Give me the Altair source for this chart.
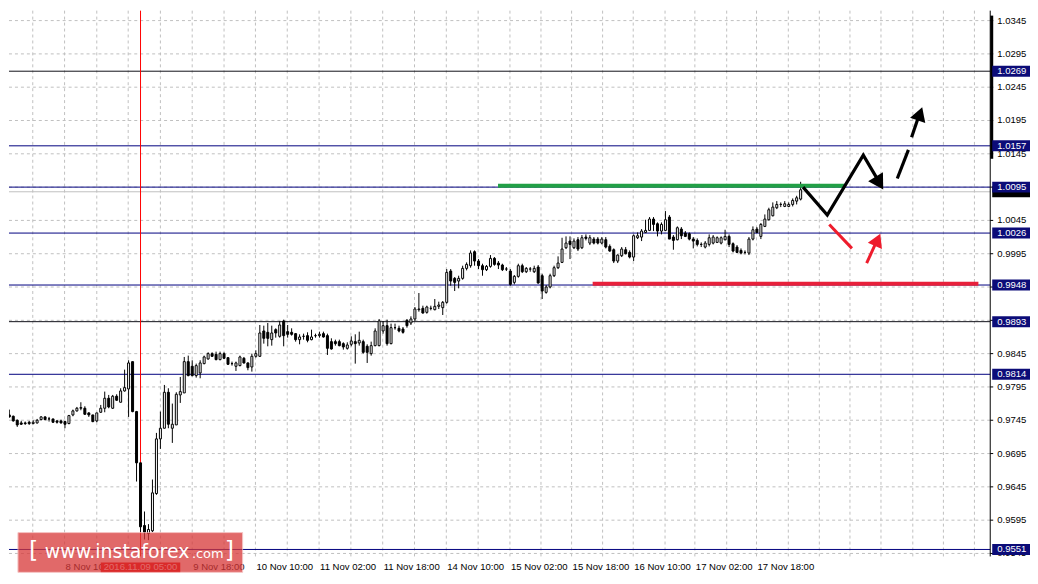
import altair as alt
import pandas as pd

# ---------------- candle data (hourly bars, bar index 0 = leftmost visible) ----------------
opens = [0.9772,0.9759,0.9753,0.9751,0.9745,0.9741,0.9741,0.9742,0.9740,0.9741,
         0.9746,0.9750,0.9747,0.9747,0.9744,0.9744,0.9743,0.9740,0.9753,0.9759,
         0.9763,0.9763,0.9756,0.9753,0.9744,0.9757,0.9763,0.9778,0.9763,0.9781,
         0.9772,0.9789,0.9792,0.9833,0.9758,0.9681,0.9587,0.9575,0.9579,0.9635,
         0.9717,0.9733,0.9787,0.9733,0.9738,0.9783,0.9786,0.9833,0.9826,0.9812,
         0.9816,0.9830,0.9837,0.9845,0.9844,0.9836,0.9845,0.9839,0.9830,0.9826,
         0.9827,0.9838,0.9831,0.9825,0.9841,0.9841,0.9879,0.9877,0.9866,0.9881,
         0.9871,0.9894,0.9878,0.9877,0.9875,0.9866,0.9871,0.9872,0.9866,0.9872,
         0.9872,0.9875,0.9872,0.9863,0.9863,0.9863,0.9860,0.9853,0.9859,0.9863,
         0.9861,0.9863,0.9856,0.9845,0.9857,0.9857,0.9879,0.9887,0.9860,0.9884,
         0.9883,0.9882,0.9895,0.9891,0.9897,0.9911,0.9913,0.9907,0.9913,0.9911,
         0.9916,0.9914,0.9922,0.9969,0.9958,0.9954,0.9958,0.9973,0.9977,0.9998,
         0.9984,0.9977,0.9971,0.9976,0.9988,0.9981,0.9978,0.9972,0.9969,0.9952,
         0.9961,0.9977,0.9968,0.9972,0.9968,0.9975,0.9962,0.9937,0.9945,0.9962,
         0.9974,0.9982,1.0004,1.0014,1.0004,1.0016,1.0004,1.0020,1.0011,1.0017,
         1.0017,1.0011,1.0016,1.0006,1.0001,0.9984,0.9992,1.0001,0.9997,0.9990,
         1.0019,1.0020,1.0027,1.0030,1.0047,1.0040,1.0029,1.0030,1.0050,1.0020,
         1.0016,1.0032,1.0026,1.0025,1.0017,1.0015,1.0009,1.0005,1.0009,1.0011,
         1.0012,1.0011,1.0016,1.0021,1.0010,1.0005,1.0000,0.9997,0.9996,1.0017,
         1.0032,1.0021,1.0036,1.0046,1.0052,1.0064,1.0069,1.0066,1.0066,1.0069,
         1.0074,1.0077]
highs = [0.9775,0.9760,0.9761,0.9752,0.9746,0.9744,0.9743,0.9744,0.9745,0.9747,
         0.9751,0.9751,0.9750,0.9747,0.9745,0.9746,0.9744,0.9753,0.9761,0.9765,
         0.9772,0.9766,0.9757,0.9753,0.9756,0.9768,0.9788,0.9783,0.9783,0.9784,
         0.9793,0.9821,0.9835,0.9833,0.9759,0.9681,0.9608,0.9589,0.9656,0.9726,
         0.9758,0.9798,0.9793,0.9770,0.9787,0.9810,0.9840,0.9842,0.9835,0.9830,
         0.9835,0.9842,0.9847,0.9847,0.9848,0.9848,0.9847,0.9839,0.9833,0.9833,
         0.9842,0.9840,0.9832,0.9845,0.9850,0.9888,0.9887,0.9891,0.9887,0.9883,
         0.9894,0.9896,0.9888,0.9883,0.9876,0.9874,0.9875,0.9877,0.9881,0.9875,
         0.9878,0.9878,0.9875,0.9868,0.9866,0.9866,0.9862,0.9862,0.9871,0.9874,
         0.9878,0.9866,0.9859,0.9863,0.9883,0.9897,0.9894,0.9896,0.9890,0.9890,
         0.9887,0.9885,0.9897,0.9901,0.9915,0.9936,0.9917,0.9917,0.9917,0.9927,
         0.9923,0.9924,0.9972,0.9972,0.9960,0.9962,0.9977,0.9982,1.0000,1.0000,
         0.9987,0.9980,0.9978,0.9993,0.9990,0.9984,0.9980,0.9975,0.9972,0.9963,
         0.9980,0.9980,0.9975,0.9975,0.9977,0.9978,0.9965,0.9948,0.9965,0.9977,
         0.9991,1.0019,1.0021,1.0021,1.0018,1.0020,1.0023,1.0024,1.0023,1.0020,
         1.0020,1.0020,1.0020,1.0009,1.0003,0.9994,1.0005,1.0005,1.0000,1.0024,
         1.0027,1.0032,1.0046,1.0050,1.0050,1.0042,1.0042,1.0059,1.0053,1.0023,
         1.0036,1.0035,1.0029,1.0027,1.0020,1.0018,1.0012,1.0014,1.0024,1.0023,
         1.0021,1.0021,1.0031,1.0024,1.0012,1.0008,1.0003,1.0000,1.0020,1.0036,
         1.0035,1.0041,1.0054,1.0064,1.0072,1.0074,1.0072,1.0074,1.0072,1.0078,
         1.0082,1.0103]
lows = [0.9755,0.9749,0.9749,0.9743,0.9735,0.9738,0.9738,0.9738,0.9739,0.9740,
        0.9745,0.9745,0.9743,0.9741,0.9740,0.9740,0.9733,0.9739,0.9751,0.9758,
        0.9760,0.9753,0.9750,0.9742,0.9742,0.9756,0.9757,0.9763,0.9762,0.9774,
        0.9772,0.9788,0.9750,0.9757,0.9653,0.9577,0.9566,0.9565,0.9577,0.9633,
        0.9702,0.9733,0.9733,0.9711,0.9738,0.9771,0.9786,0.9811,0.9811,0.9809,
        0.9808,0.9829,0.9836,0.9840,0.9835,0.9835,0.9837,0.9828,0.9827,0.9819,
        0.9826,0.9830,0.9820,0.9818,0.9839,0.9840,0.9860,0.9856,0.9857,0.9869,
        0.9869,0.9856,0.9869,0.9872,0.9863,0.9859,0.9866,0.9862,0.9865,0.9869,
        0.9869,0.9869,0.9843,0.9851,0.9857,0.9856,0.9851,0.9851,0.9856,0.9830,
        0.9857,0.9845,0.9831,0.9842,0.9856,0.9856,0.9875,0.9857,0.9859,0.9881,
        0.9877,0.9875,0.9884,0.9888,0.9894,0.9908,0.9905,0.9905,0.9910,0.9910,
        0.9912,0.9903,0.9920,0.9947,0.9939,0.9943,0.9956,0.9970,0.9974,0.9977,
        0.9972,0.9962,0.9969,0.9974,0.9977,0.9972,0.9969,0.9969,0.9947,0.9949,
        0.9959,0.9966,0.9966,0.9968,0.9966,0.9950,0.9927,0.9935,0.9943,0.9960,
        0.9972,0.9981,1.0002,0.9987,1.0002,0.9999,1.0002,1.0015,1.0008,1.0009,
        1.0009,1.0009,1.0003,0.9998,0.9981,0.9981,0.9990,0.9994,0.9988,0.9984,
        1.0017,1.0014,1.0026,1.0029,1.0029,1.0021,1.0024,1.0029,1.0017,1.0001,
        1.0015,1.0017,1.0020,1.0015,1.0003,1.0006,1.0005,1.0003,1.0006,1.0009,
        1.0011,1.0009,1.0015,1.0005,0.9997,0.9996,0.9994,0.9994,0.9993,1.0015,
        1.0026,1.0017,1.0035,1.0045,1.0051,1.0062,1.0065,1.0065,1.0065,1.0066,
        1.0069,1.0075]
closes = [0.9758,0.9750,0.9750,0.9744,0.9738,0.9739,0.9740,0.9740,0.9742,0.9745,
          0.9750,0.9746,0.9747,0.9742,0.9742,0.9741,0.9739,0.9752,0.9759,0.9763,
          0.9764,0.9754,0.9753,0.9743,0.9756,0.9763,0.9778,0.9765,0.9781,0.9775,
          0.9789,0.9794,0.9831,0.9758,0.9681,0.9585,0.9577,0.9581,0.9636,0.9717,
          0.9733,0.9787,0.9739,0.9739,0.9784,0.9788,0.9833,0.9812,0.9812,0.9827,
          0.9831,0.9840,0.9845,0.9841,0.9836,0.9845,0.9838,0.9829,0.9830,0.9831,
          0.9840,0.9831,0.9824,0.9841,0.9845,0.9876,0.9868,0.9868,0.9876,0.9876,
          0.9888,0.9872,0.9874,0.9874,0.9866,0.9870,0.9871,0.9865,0.9870,0.9872,
          0.9874,0.9870,0.9853,0.9852,0.9860,0.9857,0.9855,0.9858,0.9864,0.9860,
          0.9865,0.9847,0.9847,0.9857,0.9879,0.9894,0.9887,0.9860,0.9884,0.9884,
          0.9879,0.9877,0.9887,0.9897,0.9912,0.9912,0.9906,0.9915,0.9913,0.9916,
          0.9918,0.9922,0.9967,0.9954,0.9952,0.9958,0.9973,0.9979,0.9996,0.9984,
          0.9977,0.9971,0.9976,0.9988,0.9979,0.9978,0.9971,0.9972,0.9949,0.9961,
          0.9977,0.9968,0.9973,0.9972,0.9973,0.9951,0.9939,0.9945,0.9962,0.9974,
          0.9981,1.0002,1.0011,1.0009,1.0014,1.0002,1.0019,1.0018,1.0019,1.0011,
          1.0011,1.0017,1.0005,0.9999,0.9984,0.9993,1.0002,0.9995,0.9990,1.0022,
          1.0022,1.0029,1.0030,1.0047,1.0039,1.0029,1.0039,1.0046,1.0017,1.0015,
          1.0034,1.0022,1.0021,1.0017,1.0014,1.0009,1.0009,1.0011,1.0019,1.0020,
          1.0019,1.0019,1.0021,1.0009,0.9999,0.9997,0.9996,0.9997,1.0017,1.0031,
          1.0027,1.0039,1.0047,1.0061,1.0065,1.0069,1.0069,1.0070,1.0069,1.0075,
          1.0079,1.0091]

# ---------------- levels / annotations ----------------
level_prices = [1.0269, 1.0157, 1.0095, 1.0026, 0.9948, 0.9893, 0.9814, 0.9551]
level_texts = ["1.0269", "1.0157", "1.0095", "1.0026", "0.9948", "0.9893", "0.9814", "0.9551"]
level_line_colors = ["#101018", "#00007f", "#00007f", "#00007f", "#00007f", "#101018",
                     "#00007f", "#00007f"]
bid_price = 1.0088

y_tick_values = [0.9545, 0.9595, 0.9645, 0.9695, 0.9745, 0.9795, 0.9845, 0.9895, 0.9945,
                 0.9995, 1.0045, 1.0095, 1.0145, 1.0195, 1.0245, 1.0295, 1.0345]
y_tick_texts = ["0.9545", "0.9595", "0.9645", "0.9695", "0.9745", "0.9795", "0.9845",
                "0.9895", "0.9945", "0.9995", "1.0045", "1.0095", "1.0145", "1.0195",
                "1.0245", "1.0295", "1.0345"]

x_tick_bars = [15.9, 31.9, 48.0, 63.9, 79.9, 95.9, 111.9, 127.9, 143.4, 158.9, 174.4, 189.9]
x_tick_labels = ["", "", "9 Nov 18:00", "10 Nov 10:00", "11 Nov 02:00",
                 "11 Nov 18:00", "14 Nov 10:00", "15 Nov 02:00", "15 Nov 18:00",
                 "16 Nov 10:00", "17 Nov 02:00", "17 Nov 18:00"]
first_label_bar = 15.9
first_label = "8 Nov 10"
grid_bars = [7.9, 15.9, 24.0, 31.9, 40.0, 48.0, 56.0, 63.9, 71.9, 79.9, 87.9, 95.9, 103.9,
             111.9, 119.9, 127.9, 135.7, 143.4, 151.2, 158.9, 166.9, 174.4, 182.4, 189.9,
             197.9, 205.7, 213.4, 221.2, 229.2, 236.9, 244.7]

event_bar = 35
event_label = "2016.11.09 05:00"

green_bars = [124.9, 212.4]
green_prices = [1.0097, 1.0097]
red_bars = [148.7, 245.7]
red_prices = [0.9950, 0.9950]

zig_bars = [201.6, 207.7, 216.75, 221.2]
zig_prices = [1.0095, 1.0053, 1.0143, 1.0098]

dash_seg = [1, 1, 2, 2]
dash_bars = [225.3, 228.1, 228.9, 230.6]
dash_prices = [1.0108, 1.0151, 1.0170, 1.0200]

red_seg = [1, 1, 2, 2]
red_arrow_bars = [208.2, 213.9, 217.6, 220.3]
red_arrow_prices = [1.0039, 1.0003, 0.9981, 1.0016]

head_bars = [220.8, 231.0, 220.35]
head_prices = [1.0101, 1.0205, 1.0016]
head_angles = [149, 19, 24]
head_colors = ["#000000", "#000000", "#ee1c2c"]
head_sizes = [300, 260, 240]

# ---------------- frames ----------------
n = len(closes)
candles = pd.DataFrame({"bar": list(range(n)), "open": opens, "high": highs,
                        "low": lows, "close": closes})
candles["blo"] = candles[["open", "close"]].min(axis=1)
candles["bhi"] = candles[["open", "close"]].max(axis=1)
candles["dir"] = ["up" if c >= o else "down" for o, c in zip(opens, closes)]
candles["x1"] = candles["bar"] - 0.25
candles["x2"] = candles["bar"] + 0.25

W, H = 987, 549
FONT = "Liberation Sans"
FS = 9.6
xs = alt.Scale(domain=[1.925, 248.675], nice=False, zero=False)
ys = alt.Scale(domain=[0.954052, 1.035993], nice=False, zero=False)


def X(f):
    return alt.X(f, scale=xs, axis=None)


def Y(f):
    return alt.Y(f, scale=ys, axis=None)


x_axis = alt.Axis(values=x_tick_bars, labels=False, ticks=True, tickSize=4, tickColor="black",
                  domain=True, domainColor="black", grid=False, title=None)

vgrid = alt.Chart(pd.DataFrame({"g": grid_bars})).mark_rule(
    color="#c0c0c0", strokeDash=[3, 3], strokeWidth=1
).encode(x=alt.X("g:Q", scale=xs, axis=x_axis))

yt = pd.DataFrame({"v": y_tick_values, "t": y_tick_texts})
hgrid = alt.Chart(yt).mark_rule(color="#c0c0c0", strokeDash=[3, 3], strokeWidth=1).encode(
    y=Y("v:Q"))
yticks = alt.Chart(yt).mark_rule(color="black", strokeWidth=1).encode(
    y=Y("v:Q"), x=alt.value(W), x2=alt.value(W + 3))
ylabels = alt.Chart(yt).mark_text(align="left", baseline="middle", color="black",
                                  font=FONT, fontSize=FS).encode(
    y=Y("v:Q"), x=alt.value(W + 7), text="t:N")
ydomain = alt.Chart(pd.DataFrame({"a": [0]})).mark_rule(color="black", strokeWidth=1).encode(
    x=alt.value(W), y=alt.value(0), y2=alt.value(H))
ybar = alt.Chart(pd.DataFrame({"a": [0]})).mark_rect(color="black").encode(
    x=alt.value(W), x2=alt.value(W + 3), y=alt.value(5), y2=alt.value(149))

lv = pd.DataFrame({"price": level_prices, "label": level_texts, "c": level_line_colors})
levels = alt.Chart(lv).mark_rule(strokeWidth=1).encode(
    y=Y("price:Q"), color=alt.Color("c:N", scale=None))

bid = alt.Chart(pd.DataFrame({"price": [bid_price]})).mark_rule(
    color="#c0c0c0", strokeWidth=1).encode(y=Y("price:Q"))

vline = alt.Chart(pd.DataFrame({"bar": [event_bar]})).mark_rule(
    color="#ff0000", strokeWidth=1).encode(x=X("bar:Q"))

wicks = alt.Chart(candles).mark_rule(color="black", strokeWidth=1, clip=True).encode(
    x=X("bar:Q"), y=Y("low:Q"), y2="high:Q")

bodies = alt.Chart(candles).mark_rect(stroke="black", strokeWidth=1, clip=True).encode(
    x=X("x1:Q"), x2="x2:Q", y=Y("blo:Q"), y2="bhi:Q",
    fill=alt.Fill("dir:N", scale=alt.Scale(domain=["up", "down"], range=["white", "black"]),
                  legend=None))

green = alt.Chart(pd.DataFrame({"bar": green_bars, "price": green_prices})).mark_line(
    color="#22a046", strokeWidth=4).encode(x=X("bar:Q"), y=Y("price:Q"))

redl = alt.Chart(pd.DataFrame({"bar": red_bars, "price": red_prices})).mark_line(
    color="#e8203a", strokeWidth=4).encode(x=X("bar:Q"), y=Y("price:Q"))

zig = alt.Chart(pd.DataFrame({"bar": zig_bars, "price": zig_prices,
                              "o": list(range(len(zig_bars)))})).mark_line(
    color="black", strokeWidth=3.2).encode(x=X("bar:Q"), y=Y("price:Q"), order="o:Q")

dash = alt.Chart(pd.DataFrame({"bar": dash_bars, "price": dash_prices, "seg": dash_seg})).mark_line(
    color="black", strokeWidth=3.2).encode(x=X("bar:Q"), y=Y("price:Q"), detail="seg:N")

redarrow = alt.Chart(pd.DataFrame({"bar": red_arrow_bars, "price": red_arrow_prices,
                                   "seg": red_seg})).mark_line(
    color="#ee1c2c", strokeWidth=3).encode(x=X("bar:Q"), y=Y("price:Q"), detail="seg:N")

heads = alt.Chart(pd.DataFrame({"bar": head_bars, "price": head_prices, "ang": head_angles,
                                "col": head_colors, "sz": head_sizes})).mark_point(
    shape="triangle-up", filled=True, opacity=1, strokeWidth=0).encode(
    x=X("bar:Q"), y=Y("price:Q"),
    angle=alt.Angle("ang:Q", scale=None), color=alt.Color("col:N", scale=None),
    size=alt.Size("sz:Q", scale=None))

# right-axis price boxes
bidbox = alt.Chart(pd.DataFrame({"price": [bid_price]})).transform_calculate(
    lo="datum.price - 0.00082", hi="datum.price + 0.00082").mark_rect(color="black").encode(
    x=alt.value(W + 2), x2=alt.value(W + 40), y=Y("lo:Q"), y2="hi:Q")

boxes = alt.Chart(lv).transform_calculate(
    lo="datum.price - 0.00082", hi="datum.price + 0.00082").mark_rect(color="#0c0c78").encode(
    x=alt.value(W + 2), x2=alt.value(W + 40), y=Y("lo:Q"), y2="hi:Q")

boxtext = alt.Chart(lv).mark_text(align="left", baseline="middle", color="white",
                                  font=FONT, fontSize=FS).encode(
    x=alt.value(W + 7), y=Y("price:Q"), text="label:N")

# x-axis labels
xl = pd.DataFrame({"bar": x_tick_bars, "label": x_tick_labels})
xlabels = alt.Chart(xl).mark_text(align="left", baseline="alphabetic", color="black",
                                  font=FONT, fontSize=FS, dx=1).encode(
    x=X("bar:Q"), y=alt.value(H + 14), text="label:N")
xfirst = alt.Chart(pd.DataFrame({"bar": [first_label_bar], "label": [first_label]})).mark_text(
    align="left", baseline="alphabetic", color="black", font=FONT, fontSize=FS, dx=1
).encode(x=X("bar:Q"), y=alt.value(H + 14), text="label:N")

ev = pd.DataFrame({"bar": [event_bar], "label": [event_label]})
evbox = alt.Chart(ev).transform_calculate(a="datum.bar - 10", b="datum.bar + 10").mark_rect(
    color="#e00000").encode(x=X("a:Q"), x2="b:Q", y=alt.value(H + 6), y2=alt.value(H + 16))
evtext = alt.Chart(ev).mark_text(align="center", baseline="alphabetic", color="white",
                                 font=FONT, fontSize=FS).encode(
    x=X("bar:Q"), y=alt.value(H + 14), text="label:N")

# watermark
wm = alt.Chart(pd.DataFrame({"a": [0]})).mark_rect(
    fill="#d83838", opacity=0.75, stroke="#f2b0b0", strokeWidth=1).encode(
    x=alt.value(9), x2=alt.value(235), y=alt.value(525), y2=alt.value(565))
wm_parts = pd.DataFrame({
    "t": ["[", "www.instaforex", ".com", "]"],
    "x": [20, 36, 184, 217],
    "s": [24, 19, 13, 24]})
wmtext = alt.Chart(wm_parts).mark_text(align="left", baseline="alphabetic", color="white",
                                       font="DejaVu Sans").encode(
    x=alt.X("x:Q", scale=None), y=alt.value(551), text="t:N",
    size=alt.Size("s:Q", scale=None))

chart = alt.layer(
    vgrid, hgrid, levels, bid, vline, wicks, bodies, green, redl, zig, dash, redarrow, heads,
    ydomain, ybar, yticks, ylabels, bidbox, boxes, boxtext, xlabels, xfirst, evbox, evtext,
    wm, wmtext
).properties(width=W, height=H, padding=0, background="white").configure_view(
    stroke=None
)

chart.save("out.html", embed_options={"renderer": "svg", "actions": False})
